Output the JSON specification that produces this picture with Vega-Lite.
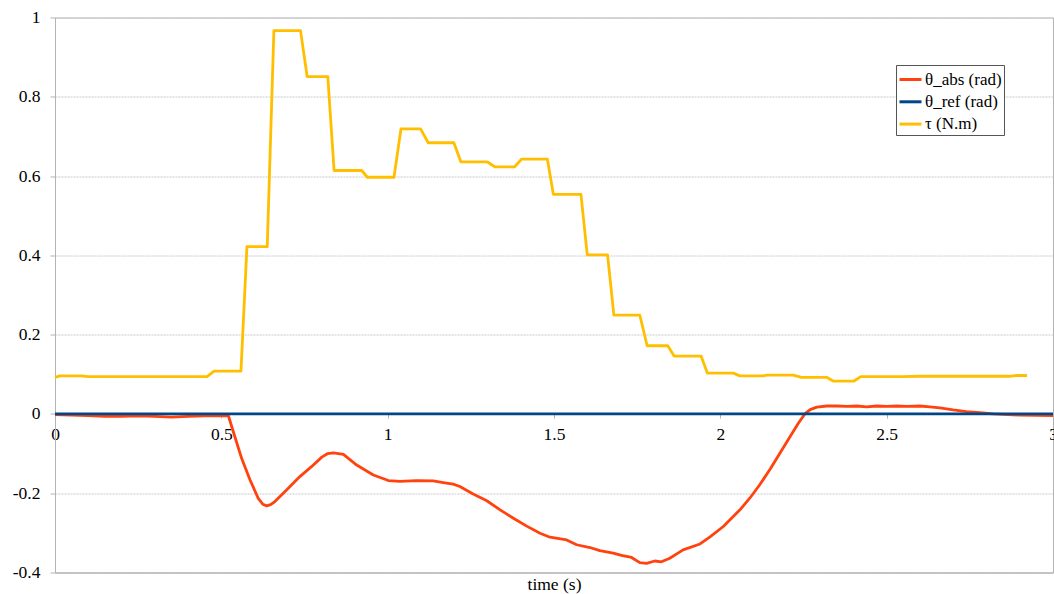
{
  "$schema": "https://vega.github.io/schema/vega-lite/v6.json",
  "width": 998,
  "height": 555,
  "autosize": {"type": "none"},
  "padding": {"left": 55, "top": 17.5, "right": 1, "bottom": 21.5},
  "background": "white",
  "config": {
    "font": "serif",
    "view": {"stroke": "#b3b3b3", "strokeWidth": 1},
    "axis": {"labelFont": "serif", "titleFont": "serif"},
    "legend": {"labelFont": "serif"}
  },
  "datasets": {
    "main": [
      {"t": 0, "value": -0.002, "series": "θ_abs (rad)"},
      {"t": 0.05, "value": -0.003, "series": "θ_abs (rad)"},
      {"t": 0.1, "value": -0.004, "series": "θ_abs (rad)"},
      {"t": 0.15, "value": -0.006, "series": "θ_abs (rad)"},
      {"t": 0.2, "value": -0.006, "series": "θ_abs (rad)"},
      {"t": 0.25, "value": -0.005, "series": "θ_abs (rad)"},
      {"t": 0.3, "value": -0.006, "series": "θ_abs (rad)"},
      {"t": 0.35, "value": -0.008, "series": "θ_abs (rad)"},
      {"t": 0.4, "value": -0.006, "series": "θ_abs (rad)"},
      {"t": 0.45, "value": -0.005, "series": "θ_abs (rad)"},
      {"t": 0.5, "value": -0.005, "series": "θ_abs (rad)"},
      {"t": 0.521, "value": -0.004, "series": "θ_abs (rad)"},
      {"t": 0.536, "value": -0.045, "series": "θ_abs (rad)"},
      {"t": 0.561, "value": -0.112, "series": "θ_abs (rad)"},
      {"t": 0.586, "value": -0.166, "series": "θ_abs (rad)"},
      {"t": 0.611, "value": -0.213, "series": "θ_abs (rad)"},
      {"t": 0.625, "value": -0.228, "series": "θ_abs (rad)"},
      {"t": 0.636, "value": -0.232, "series": "θ_abs (rad)"},
      {"t": 0.648, "value": -0.229, "series": "θ_abs (rad)"},
      {"t": 0.661, "value": -0.221, "series": "θ_abs (rad)"},
      {"t": 0.696, "value": -0.192, "series": "θ_abs (rad)"},
      {"t": 0.736, "value": -0.158, "series": "θ_abs (rad)"},
      {"t": 0.771, "value": -0.133, "series": "θ_abs (rad)"},
      {"t": 0.802, "value": -0.109, "series": "θ_abs (rad)"},
      {"t": 0.82, "value": -0.1, "series": "θ_abs (rad)"},
      {"t": 0.837, "value": -0.098, "series": "θ_abs (rad)"},
      {"t": 0.867, "value": -0.102, "series": "θ_abs (rad)"},
      {"t": 0.907, "value": -0.129, "series": "θ_abs (rad)"},
      {"t": 0.957, "value": -0.154, "series": "θ_abs (rad)"},
      {"t": 1.002, "value": -0.168, "series": "θ_abs (rad)"},
      {"t": 1.037, "value": -0.17, "series": "θ_abs (rad)"},
      {"t": 1.087, "value": -0.168, "series": "θ_abs (rad)"},
      {"t": 1.137, "value": -0.169, "series": "θ_abs (rad)"},
      {"t": 1.167, "value": -0.173, "series": "θ_abs (rad)"},
      {"t": 1.197, "value": -0.177, "series": "θ_abs (rad)"},
      {"t": 1.217, "value": -0.183, "series": "θ_abs (rad)"},
      {"t": 1.257, "value": -0.202, "series": "θ_abs (rad)"},
      {"t": 1.298, "value": -0.219, "series": "θ_abs (rad)"},
      {"t": 1.338, "value": -0.242, "series": "θ_abs (rad)"},
      {"t": 1.378, "value": -0.263, "series": "θ_abs (rad)"},
      {"t": 1.418, "value": -0.283, "series": "θ_abs (rad)"},
      {"t": 1.458, "value": -0.301, "series": "θ_abs (rad)"},
      {"t": 1.488, "value": -0.311, "series": "θ_abs (rad)"},
      {"t": 1.538, "value": -0.318, "series": "θ_abs (rad)"},
      {"t": 1.568, "value": -0.33, "series": "θ_abs (rad)"},
      {"t": 1.608, "value": -0.337, "series": "θ_abs (rad)"},
      {"t": 1.638, "value": -0.345, "series": "θ_abs (rad)"},
      {"t": 1.678, "value": -0.351, "series": "θ_abs (rad)"},
      {"t": 1.703, "value": -0.357, "series": "θ_abs (rad)"},
      {"t": 1.733, "value": -0.362, "series": "θ_abs (rad)"},
      {"t": 1.758, "value": -0.375, "series": "θ_abs (rad)"},
      {"t": 1.778, "value": -0.377, "series": "θ_abs (rad)"},
      {"t": 1.803, "value": -0.371, "series": "θ_abs (rad)"},
      {"t": 1.823, "value": -0.373, "series": "θ_abs (rad)"},
      {"t": 1.848, "value": -0.364, "series": "θ_abs (rad)"},
      {"t": 1.888, "value": -0.343, "series": "θ_abs (rad)"},
      {"t": 1.939, "value": -0.328, "series": "θ_abs (rad)"},
      {"t": 1.969, "value": -0.31, "series": "θ_abs (rad)"},
      {"t": 2.009, "value": -0.284, "series": "θ_abs (rad)"},
      {"t": 2.059, "value": -0.242, "series": "θ_abs (rad)"},
      {"t": 2.089, "value": -0.212, "series": "θ_abs (rad)"},
      {"t": 2.119, "value": -0.178, "series": "θ_abs (rad)"},
      {"t": 2.149, "value": -0.14, "series": "θ_abs (rad)"},
      {"t": 2.179, "value": -0.099, "series": "θ_abs (rad)"},
      {"t": 2.209, "value": -0.058, "series": "θ_abs (rad)"},
      {"t": 2.234, "value": -0.024, "series": "θ_abs (rad)"},
      {"t": 2.254, "value": 0.0, "series": "θ_abs (rad)"},
      {"t": 2.27, "value": 0.011, "series": "θ_abs (rad)"},
      {"t": 2.29, "value": 0.017, "series": "θ_abs (rad)"},
      {"t": 2.32, "value": 0.02, "series": "θ_abs (rad)"},
      {"t": 2.35, "value": 0.02, "series": "θ_abs (rad)"},
      {"t": 2.38, "value": 0.019, "series": "θ_abs (rad)"},
      {"t": 2.41, "value": 0.02, "series": "θ_abs (rad)"},
      {"t": 2.44, "value": 0.018, "series": "θ_abs (rad)"},
      {"t": 2.47, "value": 0.02, "series": "θ_abs (rad)"},
      {"t": 2.5, "value": 0.019, "series": "θ_abs (rad)"},
      {"t": 2.53, "value": 0.02, "series": "θ_abs (rad)"},
      {"t": 2.56, "value": 0.019, "series": "θ_abs (rad)"},
      {"t": 2.6, "value": 0.02, "series": "θ_abs (rad)"},
      {"t": 2.63, "value": 0.018, "series": "θ_abs (rad)"},
      {"t": 2.66, "value": 0.015, "series": "θ_abs (rad)"},
      {"t": 2.7, "value": 0.01, "series": "θ_abs (rad)"},
      {"t": 2.74, "value": 0.006, "series": "θ_abs (rad)"},
      {"t": 2.78, "value": 0.003, "series": "θ_abs (rad)"},
      {"t": 2.82, "value": 0.0, "series": "θ_abs (rad)"},
      {"t": 2.9, "value": -0.003, "series": "θ_abs (rad)"},
      {"t": 3.0, "value": -0.004, "series": "θ_abs (rad)"},

      {"t": 0, "value": 0.092, "series": "τ (N.m)"},
      {"t": 0.015, "value": 0.096, "series": "τ (N.m)"},
      {"t": 0.08, "value": 0.096, "series": "τ (N.m)"},
      {"t": 0.1, "value": 0.094, "series": "τ (N.m)"},
      {"t": 0.457, "value": 0.094, "series": "τ (N.m)"},
      {"t": 0.478, "value": 0.108, "series": "τ (N.m)"},
      {"t": 0.559, "value": 0.108, "series": "τ (N.m)"},
      {"t": 0.577, "value": 0.422, "series": "τ (N.m)"},
      {"t": 0.638, "value": 0.422, "series": "τ (N.m)"},
      {"t": 0.658, "value": 0.967, "series": "τ (N.m)"},
      {"t": 0.738, "value": 0.967, "series": "τ (N.m)"},
      {"t": 0.758, "value": 0.851, "series": "τ (N.m)"},
      {"t": 0.82, "value": 0.851, "series": "τ (N.m)"},
      {"t": 0.839, "value": 0.614, "series": "τ (N.m)"},
      {"t": 0.922, "value": 0.614, "series": "τ (N.m)"},
      {"t": 0.939, "value": 0.597, "series": "τ (N.m)"},
      {"t": 1.019, "value": 0.597, "series": "τ (N.m)"},
      {"t": 1.04, "value": 0.719, "series": "τ (N.m)"},
      {"t": 1.099, "value": 0.719, "series": "τ (N.m)"},
      {"t": 1.122, "value": 0.684, "series": "τ (N.m)"},
      {"t": 1.199, "value": 0.684, "series": "τ (N.m)"},
      {"t": 1.22, "value": 0.636, "series": "τ (N.m)"},
      {"t": 1.299, "value": 0.636, "series": "τ (N.m)"},
      {"t": 1.323, "value": 0.623, "series": "τ (N.m)"},
      {"t": 1.381, "value": 0.623, "series": "τ (N.m)"},
      {"t": 1.403, "value": 0.643, "series": "τ (N.m)"},
      {"t": 1.48, "value": 0.643, "series": "τ (N.m)"},
      {"t": 1.498, "value": 0.554, "series": "τ (N.m)"},
      {"t": 1.581, "value": 0.554, "series": "τ (N.m)"},
      {"t": 1.6, "value": 0.401, "series": "τ (N.m)"},
      {"t": 1.661, "value": 0.401, "series": "τ (N.m)"},
      {"t": 1.68, "value": 0.249, "series": "τ (N.m)"},
      {"t": 1.758, "value": 0.249, "series": "τ (N.m)"},
      {"t": 1.78, "value": 0.172, "series": "τ (N.m)"},
      {"t": 1.842, "value": 0.172, "series": "τ (N.m)"},
      {"t": 1.861, "value": 0.146, "series": "τ (N.m)"},
      {"t": 1.942, "value": 0.146, "series": "τ (N.m)"},
      {"t": 1.961, "value": 0.103, "series": "τ (N.m)"},
      {"t": 2.039, "value": 0.103, "series": "τ (N.m)"},
      {"t": 2.059, "value": 0.096, "series": "τ (N.m)"},
      {"t": 2.129, "value": 0.096, "series": "τ (N.m)"},
      {"t": 2.14, "value": 0.098, "series": "τ (N.m)"},
      {"t": 2.219, "value": 0.098, "series": "τ (N.m)"},
      {"t": 2.244, "value": 0.092, "series": "τ (N.m)"},
      {"t": 2.321, "value": 0.092, "series": "τ (N.m)"},
      {"t": 2.339, "value": 0.083, "series": "τ (N.m)"},
      {"t": 2.402, "value": 0.083, "series": "τ (N.m)"},
      {"t": 2.422, "value": 0.094, "series": "τ (N.m)"},
      {"t": 2.55, "value": 0.094, "series": "τ (N.m)"},
      {"t": 2.6, "value": 0.095, "series": "τ (N.m)"},
      {"t": 2.87, "value": 0.095, "series": "τ (N.m)"},
      {"t": 2.891, "value": 0.097, "series": "τ (N.m)"},
      {"t": 2.922, "value": 0.097, "series": "τ (N.m)"}
    ],
    "reference": [
      {"t": 0, "value": 0, "series": "θ_ref (rad)"},
      {"t": 0.5, "value": 0, "series": "θ_ref (rad)"},
      {"t": 1, "value": 0, "series": "θ_ref (rad)"},
      {"t": 1.5, "value": 0, "series": "θ_ref (rad)"},
      {"t": 2, "value": 0, "series": "θ_ref (rad)"},
      {"t": 2.5, "value": 0, "series": "θ_ref (rad)"},
      {"t": 3, "value": 0, "series": "θ_ref (rad)"}
    ]
  },
  "layer": [
    {
      "data": {"name": "main"},
      "mark": {"type": "line", "strokeWidth": 2.8, "strokeJoin": "round", "interpolate": "linear"},
      "encoding": {
        "x": {
          "field": "t",
          "type": "quantitative",
          "scale": {"domain": [0, 3], "nice": false, "zero": false},
          "axis": {
            "orient": "bottom",
            "offset": -158.5,
            "values": [0, 0.5, 1, 1.5, 2, 2.5, 3],
            "format": "~g",
            "title": null,
            "grid": false,
            "domain": false,
            "ticks": true,
            "tickColor": "#b3b3b3",
            "tickSize": 4,
            "labelPadding": 7,
            "labelFontSize": 17.5,
            "labelColor": "#000000",
            "labelFlush": false,
            "labelOverlap": false
          }
        },
        "y": {
          "field": "value",
          "type": "quantitative",
          "scale": {"domain": [-0.4, 1], "nice": false, "zero": false},
          "axis": {
            "values": [-0.4, -0.2, 0, 0.2, 0.4, 0.6, 0.8, 1],
            "labelExpr": "replace(format(datum.value, '~g'), '\u2212', '-')",
            "title": null,
            "grid": true,
            "gridColor": "#c8c8c8",
            "gridDash": [2, 1],
            "gridWidth": 1,
            "domainColor": "#b3b3b3",
            "tickColor": "#b3b3b3",
            "tickSize": 5,
            "labelPadding": 10,
            "labelFontSize": 17.5,
            "labelColor": "#000000",
            "labelFlush": false,
            "labelOverlap": false
          }
        },
        "color": {
          "field": "series",
          "type": "nominal",
          "scale": {
            "domain": ["θ_abs (rad)", "θ_ref (rad)", "τ (N.m)"],
            "range": ["#FF420E", "#004586", "#FFBF00"]
          },
          "legend": {
            "title": null,
            "orient": "none",
            "legendX": 841,
            "legendY": 47.5,
            "symbolType": "stroke",
            "symbolSize": 484,
            "symbolStrokeWidth": 3,
            "labelFontSize": 17,
            "labelColor": "#000000",
            "labelOffset": 2,
            "rowPadding": 1.3,
            "padding": 2,
            "strokeColor": "#555555",
            "fillColor": "#ffffff",
            "labelLimit": 200
          }
        }
      }
    },
    {
      "data": {"name": "reference"},
      "mark": {"type": "line", "strokeWidth": 2.8},
      "encoding": {
        "x": {
          "field": "t",
          "type": "quantitative",
          "axis": {
            "orient": "bottom",
            "title": "time (s)",
            "titleFontSize": 17.5,
            "titleFontWeight": "normal",
            "titleColor": "#000000",
            "titlePadding": 3,
            "labels": false,
            "ticks": false,
            "grid": false,
            "domainColor": "#b3b3b3"
          }
        },
        "y": {"field": "value", "type": "quantitative"},
        "color": {"field": "series", "type": "nominal"}
      }
    }
  ],
  "resolve": {"axis": {"x": "independent"}}
}
